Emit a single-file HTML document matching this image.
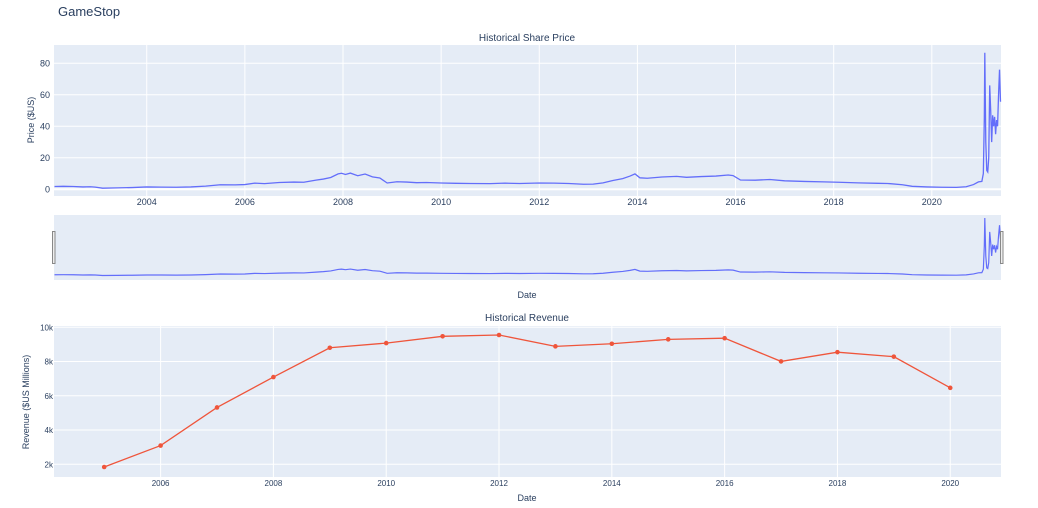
<!DOCTYPE html>
<html><head><meta charset="utf-8"><style>
body{margin:0;background:#fff;}
svg{display:block;font-family:"Liberation Sans",Arial,sans-serif;}
</style></head><body>
<svg id="chart" width="1038" height="508" xmlns="http://www.w3.org/2000/svg"></svg>
<script>
const priceDates=[2002.12,2002.3,2002.5,2002.7,2002.85,2002.95,2003.1,2003.4,2003.7,2004.0,2004.3,2004.6,2004.9,2005.2,2005.5,2005.8,2006.0,2006.2,2006.4,2006.7,2007.0,2007.2,2007.45,2007.6,2007.75,2007.9,2007.97,2008.05,2008.15,2008.3,2008.45,2008.6,2008.75,2008.9,2009.1,2009.3,2009.5,2009.7,2010.0,2010.3,2010.6,2011.0,2011.3,2011.6,2012.0,2012.3,2012.6,2012.9,2013.1,2013.3,2013.5,2013.7,2013.85,2013.95,2014.05,2014.2,2014.5,2014.8,2015.0,2015.3,2015.6,2015.85,2015.95,2016.1,2016.4,2016.7,2017.0,2017.4,2017.8,2018.1,2018.5,2018.9,2019.1,2019.4,2019.6,2019.9,2020.2,2020.5,2020.7,2020.85,2020.95,2021.02,2021.05,2021.07,2021.08,2021.1,2021.12,2021.14,2021.16,2021.18,2021.2,2021.22,2021.24,2021.26,2021.28,2021.3,2021.32,2021.34,2021.36,2021.38,2021.4];
const priceValues=[1.8,1.9,1.8,1.5,1.6,1.4,0.7,0.9,1.1,1.5,1.4,1.3,1.5,2.0,2.9,2.8,3.0,3.9,3.6,4.3,4.6,4.5,5.8,6.5,7.5,9.8,10.2,9.4,10.3,8.6,9.7,7.9,7.2,4.0,4.8,4.6,4.2,4.3,4.0,3.8,3.7,3.6,3.9,3.7,4.0,3.9,3.7,3.2,3.3,4.1,5.6,6.8,8.4,9.8,7.3,7.0,7.8,8.2,7.6,8.1,8.4,9.1,8.7,5.9,5.8,6.2,5.4,5.0,4.7,4.5,4.1,3.8,3.7,2.9,1.9,1.5,1.3,1.2,1.6,3.0,4.7,5.0,10.0,45.0,86.7,30.0,12.0,11.0,20.0,66.0,50.0,30.0,47.0,40.0,46.0,35.0,44.0,40.0,60.0,76.0,55.6];
const revYears=[2005,2006,2007,2008,2009,2010,2011,2012,2013,2014,2015,2016,2017,2018,2019,2020];
const revValues=[1843,3092,5319,7094,8806,9078,9474,9551,8887,9040,9296,9364,8008,8547,8285,6466];
const priceTicks=[0,20,40,60,80];
const priceYearTicks=[2004,2006,2008,2010,2012,2014,2016,2018,2020];
const revTicks=[2000,4000,6000,8000,10000];
const revTickLabels=["2k","4k","6k","8k","10k"];
const revYearTicks=[2006,2008,2010,2012,2014,2016,2018,2020];

const NS="http://www.w3.org/2000/svg";
const svg=document.getElementById('chart');
function el(tag,attrs,parent){const e=document.createElementNS(NS,tag);for(const k in attrs)e.setAttribute(k,attrs[k]);(parent||svg).appendChild(e);return e;}
function txt(s,attrs,parent){const t=el('text',attrs,parent);t.textContent=s;return t;}
const L=54,R=1001;
// top axes
const px=d=>L+(d-2002.11)*(R-L)/(2021.41-2002.11);
const py=v=>189.3-v*1.575;
const sy=v=>275.5-(v-0.7)*0.668;
// bottom axes
const rx=d=>L+(d-2004.11)*(R-L)/(2020.9-2004.11);
const ry=v=>327.3+(10000-v)*0.017125;

let t=txt('GameStop',{x:58,y:16,'font-size':13,fill:'#2a3f5f'});


// top plot
let g=el('g',{});
el('rect',{x:L,y:45,width:R-L,height:151,fill:'#e5ecf6'},g);
priceYearTicks.forEach(y=>{el('line',{x1:px(y),x2:px(y),y1:45,y2:196,stroke:'#fff','stroke-width':1},g);
 const lt=txt(String(y),{x:px(y),y:205,'font-size':9,fill:'#2a3f5f','text-anchor':'middle'},g);
 });
priceTicks.forEach(v=>{el('line',{x1:L,x2:R,y1:py(v),y2:py(v),stroke:'#fff','stroke-width':v===0?2:1},g);
 const lt=txt(String(v),{x:L-4,y:py(v)+3,'font-size':9,fill:'#2a3f5f','text-anchor':'end'},g);
 });
let pl=el('polyline',{points:priceDates.map((d,i)=>px(d)+','+py(priceValues[i])).join(' '),fill:'none',stroke:'#636efa','stroke-width':1.3},g);

t=txt('Historical Share Price',{x:527,y:41,'font-size':10,fill:'#2a3f5f','text-anchor':'middle'});

t=txt('Price ($US)',{x:0,y:0,'font-size':9,fill:'#2a3f5f','text-anchor':'middle',transform:'translate(34,120) rotate(-90)'});


// range slider
let s=el('g',{});
el('rect',{x:L,y:215,width:R-L,height:65,fill:'#e5ecf6'},s);
let sl=el('polyline',{points:priceDates.map((d,i)=>px(d)+','+sy(priceValues[i])).join(' '),fill:'none',stroke:'#636efa','stroke-width':1.2},s);

let h1=el('rect',{x:52.5,y:231.5,width:2.5,height:32,fill:'#eee',stroke:'#888','stroke-width':1},s);

let h2=el('rect',{x:1000.5,y:231.5,width:2.5,height:32,fill:'#eee',stroke:'#888','stroke-width':1},s);

t=txt('Date',{x:527,y:298,'font-size':9,fill:'#2a3f5f','text-anchor':'middle'});


// bottom plot
let b=el('g',{});
el('rect',{x:L,y:326,width:R-L,height:151,fill:'#e5ecf6'},b);
revYearTicks.forEach(y=>{el('line',{x1:rx(y),x2:rx(y),y1:326,y2:477,stroke:'#fff','stroke-width':1},b);
 const lt=txt(String(y),{x:rx(y),y:486,'font-size':8,fill:'#2a3f5f','text-anchor':'middle'},b);
 });
revTicks.forEach((v,i)=>{el('line',{x1:L,x2:R,y1:ry(v),y2:ry(v),stroke:'#fff','stroke-width':1},b);
 const lt=txt(revTickLabels[i],{x:L-1,y:ry(v)+3,'font-size':8,fill:'#2a3f5f','text-anchor':'end'},b);
 });
let rl=el('polyline',{points:revYears.map((d,i)=>rx(d)+','+ry(revValues[i])).join(' '),fill:'none',stroke:'#ef553b','stroke-width':1.3},b);

revYears.forEach((d,i)=>{const c=el('circle',{cx:rx(d),cy:ry(revValues[i]),r:2.3,fill:'#ef553b'},b);
 
 });
t=txt('Historical Revenue',{x:527,y:321,'font-size':10,fill:'#2a3f5f','text-anchor':'middle'});

t=txt('Revenue ($US Millions)',{x:0,y:0,'font-size':9,fill:'#2a3f5f','text-anchor':'middle',transform:'translate(29,402) rotate(-90)'});

t=txt('Date',{x:527,y:501,'font-size':9,fill:'#2a3f5f','text-anchor':'middle'});

</script>
</body></html>
